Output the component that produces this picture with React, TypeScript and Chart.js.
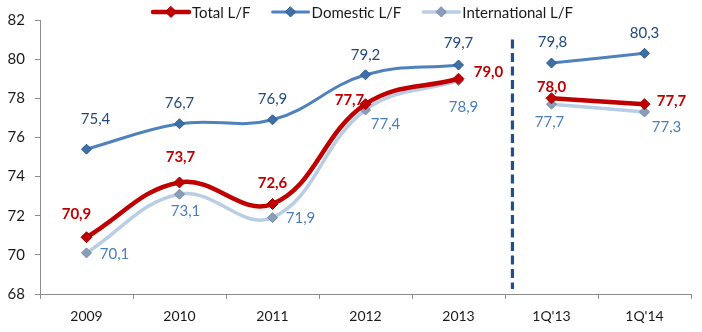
import React, { useEffect, useRef } from "react";
import { Chart, registerables } from "chart.js";

Chart.register(...registerables);

const categories = ["2009", "2010", "2011", "2012", "2013", "1Q'13", "1Q'14"];
const totalLF = [70.9, 73.7, 72.6, 77.7, 79.0, 78.0, 77.7];
const domesticLF = [75.4, 76.7, 76.9, 79.2, 79.7, 79.8, 80.3];
const internationalLF = [70.1, 73.1, 71.9, 77.4, 78.9, 77.7, 77.3];
const yMin = 68;
const yMax = 82;
const yStep = 2;
const annualCount = 5; // first 5 categories are years, rest are quarters

const FONT = "Lato, 'Open Sans', sans-serif";

type Series = {
  name: string;
  values: number[];
  color: string;
  width: number;
  pointColor: string;
  pointBorder: string;
  radius: number;
  labelColor: string;
  bold: boolean;
  offsets: [number, number][];
};

const series: Series[] = [
  {
    name: "Total L/F",
    values: totalLF,
    color: "#C00000",
    width: 4.5,
    pointColor: "#C00000",
    pointBorder: "#A00000",
    radius: 5.5,
    labelColor: "#C00000",
    bold: true,
    offsets: [[-10, -23], [1, -25], [0, -21], [-16, -4], [30, -7], [0, -11], [27, -3]],
  },
  {
    name: "Domestic L/F",
    values: domesticLF,
    color: "#4F81BD",
    width: 3,
    pointColor: "#3E6FA8",
    pointBorder: "#2F5A8C",
    radius: 5,
    labelColor: "#1F497D",
    bold: false,
    offsets: [[9, -30], [0, -21], [0, -21], [0, -20], [0, -22], [1, -21], [0, -20]],
  },
  {
    name: "International L/F",
    values: internationalLF,
    color: "#B9CDE5",
    width: 3.5,
    pointColor: "#8A9DB8",
    pointBorder: "#7589A6",
    radius: 5,
    labelColor: "#4A7EBB",
    bold: false,
    offsets: [[28, 1], [6, 17], [28, 0], [20, 14], [5, 26], [-2, 18], [22, 15]],
  },
];

const fmt = (v: number) => v.toFixed(1).replace(".", ",");

function drawDiamond(ctx: CanvasRenderingContext2D, x: number, y: number, r: number, fill: string, stroke: string) {
  ctx.beginPath();
  ctx.moveTo(x, y - r);
  ctx.lineTo(x + r, y);
  ctx.lineTo(x, y + r);
  ctx.lineTo(x - r, y);
  ctx.closePath();
  ctx.fillStyle = fill;
  ctx.fill();
  ctx.lineWidth = 1;
  ctx.strokeStyle = stroke;
  ctx.stroke();
}

const labelsPlugin = {
  id: "customLabels",
  afterDatasetsDraw(chart: any) {
    const ctx: CanvasRenderingContext2D = chart.ctx;
    const xs = chart.scales.x;
    const ys = chart.scales.y;
    // divider between annual and quarterly data
    const xa = xs.getPixelForValue(annualCount - 1);
    const xb = xs.getPixelForValue(annualCount);
    const dx = xa + (xb - xa) * 0.58;
    ctx.save();
    ctx.strokeStyle = "#1F4E91";
    ctx.lineWidth = 3.2;
    ctx.setLineDash([9, 4.5]);
    ctx.beginPath();
    ctx.moveTo(dx, ys.getPixelForValue(81));
    ctx.lineTo(dx, chart.chartArea.bottom - 5);
    ctx.stroke();
    ctx.restore();

    ctx.save();
    ctx.textAlign = "center";
    ctx.textBaseline = "middle";
    series.forEach((s) => {
      ctx.font = `${s.bold ? "bold " : ""}15px ${FONT}`;
      ctx.fillStyle = s.labelColor;
      s.values.forEach((v, i) => {
        const px = xs.getPixelForValue(i);
        const py = ys.getPixelForValue(v);
        const [ox, oy] = s.offsets[i];
        ctx.fillText(fmt(v), px + ox, py + oy);
      });
    });
    ctx.restore();

    // legend
    ctx.save();
    ctx.font = `15px ${FONT}`;
    ctx.textBaseline = "middle";
    ctx.textAlign = "left";
    const lineLen = 36;
    const gapText = 3;
    const gapItem = 22;
    const widths = series.map((s) => lineLen + gapText + ctx.measureText(s.name).width);
    const total = widths.reduce((a, b) => a + b, 0) + gapItem * (series.length - 1);
    let x = 153;
    const y = 12;
    series.forEach((s, i) => {
      ctx.strokeStyle = s.color;
      ctx.lineWidth = s.width;
      ctx.lineCap = "round";
      ctx.beginPath();
      ctx.moveTo(x, y);
      ctx.lineTo(x + lineLen, y);
      ctx.stroke();
      drawDiamond(ctx, x + lineLen / 2, y, s.radius, s.pointColor, s.pointBorder);
      ctx.fillStyle = "#1a1a1a";
      ctx.fillText(s.name, x + lineLen + gapText, y + 1);
      x += widths[i] + gapItem;
    });
    void total;
    ctx.restore();
  },
};

export default function App() {
  const ref = useRef<HTMLCanvasElement | null>(null);
  useEffect(() => {
    if (!ref.current) return;
    const datasets: any[] = [];
    series.forEach((s) => {
      const parts = [
        s.values.map((v, i) => (i < annualCount ? v : null)),
        s.values.map((v, i) => (i >= annualCount ? v : null)),
      ];
      parts.forEach((data) => {
        datasets.push({
          label: s.name,
          data,
          borderColor: s.color,
          borderWidth: s.width,
          backgroundColor: s.pointColor,
          pointBackgroundColor: s.pointColor,
          pointBorderColor: s.pointBorder,
          pointBorderWidth: 1,
          pointStyle: "rectRot",
          pointRadius: s.radius,
          tension: 0.4,
          spanGaps: false,
          borderJoinStyle: "round",
          borderCapStyle: "round",
          fill: false,
        });
      });
    });
    const chart = new Chart(ref.current, {
      type: "line",
      data: { labels: categories, datasets },
      options: {
        animation: false,
        responsive: false,
        maintainAspectRatio: false,
        layout: { padding: { top: 20, right: 11, left: 0, bottom: 0 } },
        plugins: { legend: { display: false }, tooltip: { enabled: false } },
        scales: {
          x: {
            offset: true,
            grid: { offset: true, drawOnChartArea: false, drawTicks: true, tickLength: 5, color: "#8c8c8c" },
            border: { display: true, color: "#8c8c8c", width: 1 },
            ticks: { color: "#1a1a1a", font: { family: FONT, size: 14 }, padding: 9, maxRotation: 0 },
            afterFit: (scale: any) => {
              scale.height = 38;
            },
          },
          y: {
            min: yMin,
            max: yMax,
            grid: { drawOnChartArea: false, drawTicks: true, tickLength: 5, color: "#8c8c8c" },
            border: { display: true, color: "#8c8c8c", width: 1 },
            ticks: { stepSize: yStep, color: "#1a1a1a", font: { family: FONT, size: 15 }, padding: 10 },
            afterFit: (scale: any) => {
              scale.width = 40;
            },
          },
        },
      },
      plugins: [labelsPlugin],
    });
    return () => chart.destroy();
  }, []);
  return (
    <div style={{ position: "fixed", left: 0, top: 0, width: 702, height: 332, background: "#fff" }}>
      <canvas ref={ref} width={702} height={332} style={{ width: 702, height: 332, display: "block" }} />
    </div>
  );
}
